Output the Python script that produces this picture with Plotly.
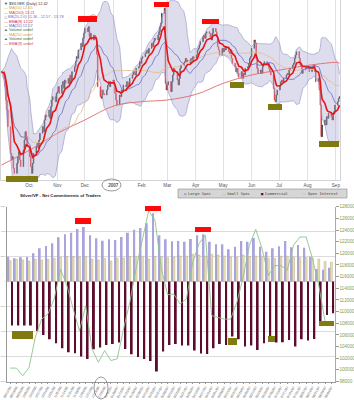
import pandas as pd
import plotly.graph_objects as go

W, H = 354, 400

# ---------------- price data: daily closes ----------------
close_2006_09 = [13.28, 13.12, 12.92, 12.60, 12.36, 11.96, 11.32, 11.16, 11.24, 10.96, 10.84,
                 11.08, 11.24, 11.36, 11.16, 11.00, 11.40, 11.64, 11.84, 11.72, 11.48]
close_2006_10 = [11.24, 11.00, 10.84, 11.08, 11.32, 11.48, 11.56, 11.44, 11.64, 11.80, 11.96,
                 11.84, 12.12, 12.24, 12.20, 12.36, 12.16, 12.44, 12.60, 12.68, 12.56, 12.76]
close_2006_11 = [12.80, 12.92, 12.76, 12.96, 13.04, 12.88, 13.08, 13.00, 13.12, 13.00, 13.20,
                 13.08, 13.28, 13.40, 13.52, 13.64, 13.60, 13.80, 13.96, 13.88, 14.08, 14.20]
close_2006_12 = [14.32, 14.24, 14.36, 14.12, 14.20, 14.04, 14.16, 14.12, 14.08, 13.70, 12.92,
                 12.68, 12.64, 12.84, 12.76, 12.72, 12.84, 12.96, 13.04, 12.92, 13.04]
close_2007_01 = [13.08, 12.96, 12.76, 12.60, 12.48, 12.72, 12.68, 12.84, 12.80, 12.96, 12.92,
                 13.04, 13.00, 12.92, 13.12, 13.20, 13.28, 13.24, 13.20, 13.36, 13.40, 13.52, 13.48]
close_2007_02 = [13.60, 13.64, 13.72, 13.76, 13.80, 13.72, 13.84, 13.96, 13.88, 14.00, 14.08,
                 14.04, 14.16, 14.24, 14.36, 14.44, 14.68, 14.80, 13.00, 12.84]
close_2007_03 = [12.96, 13.04, 12.80, 13.04, 13.20, 13.36, 13.28, 13.08, 12.96, 13.12, 13.36,
                 13.44, 13.48, 13.52, 13.60, 13.52, 13.56, 13.48, 13.60, 13.52, 13.64, 13.60]
close_2007_04 = [13.68, 13.80, 13.84, 13.92, 14.00, 14.12, 14.16, 14.08, 14.20, 14.24, 14.20,
                 14.12, 14.04, 14.20, 14.32, 14.24, 14.12, 13.88, 13.80, 13.68, 13.84]
close_2007_05 = [13.76, 13.84, 13.80, 13.88, 13.76, 13.72, 13.80, 13.60, 13.48, 13.40, 13.28,
                 13.36, 13.24, 13.16, 13.28, 13.12, 13.24, 13.20, 13.36, 13.40, 13.48, 13.60, 13.64]
close_2007_06 = [13.84, 14.04, 13.96, 13.60, 13.36, 13.24, 13.32, 13.24, 13.40, 13.48, 13.52,
                 13.44, 13.48, 13.36, 13.28, 13.20, 12.88, 12.60, 12.56, 12.72, 12.84]
close_2007_07 = [12.96, 13.04, 13.08, 13.04, 13.12, 13.20, 13.24, 13.20, 13.32, 13.36, 13.44,
                 13.48, 13.60, 13.68, 13.76, 13.60, 13.44, 13.40, 13.24, 13.32, 13.36, 13.40]
close_2007_08 = [13.36, 13.40, 13.28, 13.36, 13.40, 13.44, 13.28, 13.04, 13.12, 12.84, 12.48,
                 11.72, 12.00, 12.12, 12.00, 12.20, 12.16, 12.28, 12.20, 12.12, 12.28, 12.32, 12.48]
close_2007_09 = [12.56, 12.64, 12.68]

price_months = [("2006-09-01", close_2006_09), ("2006-10-01", close_2006_10),
                ("2006-11-01", close_2006_11), ("2006-12-01", close_2006_12),
                ("2007-01-01", close_2007_01), ("2007-02-01", close_2007_02),
                ("2007-03-01", close_2007_03), ("2007-04-01", close_2007_04),
                ("2007-05-01", close_2007_05), ("2007-06-01", close_2007_06),
                ("2007-07-01", close_2007_07), ("2007-08-01", close_2007_08),
                ("2007-09-01", close_2007_09)]

# 200-day moving average (monthly points)
ma200_dates = ["2006-09-01", "2006-10-02", "2006-11-01", "2006-12-01", "2007-01-02",
               "2007-02-01", "2007-03-01", "2007-04-02", "2007-05-01", "2007-06-01",
               "2007-07-02", "2007-08-01", "2007-09-03", "2007-09-05"]
ma200_values = [11.04, 11.40, 11.80, 12.12, 12.46, 12.56, 12.60, 12.74, 13.00, 13.20,
                13.32, 13.43, 13.50, 13.48]

month_ticks = ["2006-10-01", "2006-11-01", "2006-12-01", "2007-01-01", "2007-02-01",
               "2007-03-01", "2007-04-01", "2007-05-01", "2007-06-01", "2007-07-01",
               "2007-08-01", "2007-09-01"]
month_labels = ["Oct", "Nov", "Dec", "<b>2007</b>", "Feb", "Mar", "Apr", "May", "Jun",
                "Jul", "Aug", "Sep"]

# ---------------- COT data (weekly) ----------------
cot_labels = ["09/12/06", "09/19/06", "09/26/06", "10/03/06", "10/10/06", "10/17/06",
              "10/24/06", "10/31/06", "11/07/06", "11/14/06", "11/21/06", "11/28/06",
              "12/05/06", "12/12/06", "12/19/06", "12/26/06", "01/02/07", "01/09/07",
              "01/16/07", "01/23/07", "01/30/07", "02/06/07", "02/13/07", "02/20/07",
              "02/27/07", "03/06/07", "03/13/07", "03/20/07", "03/27/07", "04/03/07",
              "04/10/07", "04/17/07", "04/24/07", "05/01/07", "05/08/07", "05/15/07",
              "05/22/07", "05/29/07", "06/05/07", "06/12/07", "06/19/07", "06/26/07",
              "07/03/07", "07/10/07", "07/17/07", "07/24/07", "07/31/07", "08/07/07",
              "08/14/07", "08/21/07", "08/28/07", "09/04/07"]
large_spec = [20000, 18700, 19500, 19700, 22700, 26700, 28500, 30700, 35500, 37900,
              39200, 42100, 43700, 37100, 34700, 32800, 33900, 33300, 35700, 39200,
              41600, 42900, 46700, 54700, 37100, 33900, 32300, 32500, 32000, 34100,
              37100, 37900, 32000, 29900, 29900, 25900, 28000, 32500, 32000, 34900,
              28000, 24000, 26700, 28300, 32500, 27500, 29300, 27200, 20000, 10100,
              9600, 11200]
small_spec = [16800, 17900, 17300, 16500, 17900, 17300, 17900, 18700, 19500, 20000,
              20000, 19700, 20000, 17900, 17300, 18700, 16500, 18700, 18900, 20000,
              20300, 20300, 18100, 20000, 20000, 19200, 19700, 20500, 20500, 21900,
              21300, 20500, 21900, 21300, 20500, 19700, 19700, 21300, 20000, 20500,
              20500, 18700, 18700, 20300, 20300, 19700, 19200, 19200, 18700, 17900,
              16000, 15500]
commercial = [-35200, -35200, -35200, -35200, -39500, -42700, -46100, -49300, -53300, -56500,
              -57300, -60000, -61900, -54100, -52800, -50700, -49900, -48800, -53900, -58100,
              -60300, -61900, -63500, -72000, -56000, -50700, -49900, -51200, -51200, -55200,
              -57600, -57900, -53300, -49900, -50700, -44000, -46100, -52000, -51200, -54700,
              -49300, -47500, -48800, -48500, -46700, -52000, -46100, -47200, -45900, -34700,
              -26700, -25300]
open_interest = [100300, 100300, 99000, 100400, 105600, 108700, 109600, 112200, 117300, 114500,
                 110500, 106700, 111000, 103600, 101300, 103300, 101600, 101900, 107000, 111600,
                 117400, 122500, 127300, 125700, 117400, 112900, 113000, 111300, 112200, 118500,
                 121700, 123100, 109300, 109000, 108700, 108700, 111600, 115900, 121400, 124100,
                 120800, 116200, 117900, 117900, 117100, 121400, 122800, 122800, 119100, 114500,
                 108300, 108200]

legend_lines = [("▼ $SILVER (Daily) 12.42", "#333333"),
                ("— MA(50) 12.65", "#e09a40"),
                ("— MA(200) 13.21", "#d84040"),
                ("△ BB(20,2.0) 11.36 - 12.57 - 13.78", "#7070b0"),
                ("— EMA(9) 12.22", "#e02020"),
                ("— MA(20) 12.57", "#6060c0"),
                ("▲ Volume undef", "#3a6a3a"),
                ("— MA(20) undef", "#e09a40"),
                ("▲ Volume undef", "#3a6a3a"),
                ("— EMA(9) undef", "#d84040")]

# ---------------- build daily series ----------------
dates, closes = [], []
for start, vals in price_months:
    s0 = pd.Timestamp(start)
    bd = pd.bdate_range(s0, s0 + pd.offsets.MonthEnd(0))
    for d, v in zip(bd, vals):
        dates.append(d)
        closes.append(v)
s = pd.Series(closes, index=dates)
opens = [closes[0]] + closes[:-1]
highs = [max(o, c) for o, c in zip(opens, closes)]
lows = [min(o, c) for o, c in zip(opens, closes)]
ema9 = s.ewm(span=9, adjust=False).mean()
ma20 = s.rolling(20, min_periods=1).mean()
sd20 = s.rolling(20, min_periods=1).std(ddof=0).fillna(0)
bb_up = ma20 + 2 * sd20
bb_lo = ma20 - 2 * sd20
ma50 = s.rolling(50, min_periods=1).mean()


def fx(px):
    return px / W


def fy(py):
    return 1 - py / H


fig = go.Figure()
# ---- top panel ----
fig.add_trace(go.Scatter(x=dates, y=bb_up, mode="lines", line=dict(color="#9090c4", width=0.6),
                         hoverinfo="skip"))
fig.add_trace(go.Scatter(x=dates, y=bb_lo, mode="lines", line=dict(color="#9090c4", width=0.6),
                         fill="tonexty", fillcolor="rgba(170,170,212,0.40)", hoverinfo="skip"))
fig.add_trace(go.Scatter(x=ma200_dates, y=ma200_values, mode="lines",
                         line=dict(color="#e06a6a", width=0.9, shape="spline")))
fig.add_trace(go.Scatter(x=dates, y=ma50, mode="lines", line=dict(color="#e2bc8c", width=0.8)))
fig.add_trace(go.Scatter(x=dates, y=ma20, mode="lines", line=dict(color="#6c6cc4", width=0.8)))
fig.add_trace(go.Candlestick(x=dates, open=opens, high=highs, low=lows, close=closes,
                             increasing=dict(line=dict(color="#3c3c3c", width=0.9), fillcolor="#8a8a8a"),
                             decreasing=dict(line=dict(color="#e83a3a", width=0.9), fillcolor="#e83a3a"),
                             whiskerwidth=0))
fig.add_trace(go.Scatter(x=dates, y=ema9, mode="lines", line=dict(color="#e81414", width=1.6)))

# ---- bottom panel ----
fig.add_trace(go.Bar(x=cot_labels, y=large_spec, marker=dict(color="#a9a5dc", line_width=0),
                     xaxis="x2", yaxis="y2", name="Large Spec"))
fig.add_trace(go.Bar(x=cot_labels, y=small_spec,
                     marker=dict(color="#ebe3b8", line=dict(color="#a8986a", width=0.4)),
                     xaxis="x2", yaxis="y2", name="Small Spec"))
fig.add_trace(go.Bar(x=cot_labels, y=commercial, marker=dict(color="#5e0c2e", line_width=0),
                     xaxis="x2", yaxis="y2", name="Commercial"))
fig.add_trace(go.Scatter(x=cot_labels, y=open_interest, mode="lines",
                         line=dict(color="#8cc48c", width=0.9), xaxis="x2", yaxis="y3",
                         name="Open Interest"))

shapes = []


def box(x0, y0, x1, y1, color):
    shapes.append(dict(type="rect", xref="paper", yref="paper", x0=fx(x0), x1=fx(x1),
                       y0=fy(y1), y1=fy(y0), fillcolor=color, line_width=0, layer="above"))


RED, OLIVE = "#ff0a0a", "#807b10"
for b in [(78, 16, 97, 22), (154, 2, 169, 7), (202, 19, 219, 24),
          (75, 218, 91, 224), (145, 206, 161, 211), (195, 227, 211, 232)]:
    box(*b, RED)
for b in [(6, 176, 38, 182), (230, 82, 244, 88), (268, 104, 282, 110), (319, 141, 339, 147),
          (12, 331, 33, 339), (228, 338, 237, 345), (268, 336, 275, 342), (319, 321, 334, 326)]:
    box(*b, OLIVE)

# hand-drawn ellipses
shapes.append(dict(type="circle", xref="paper", yref="paper", x0=fx(102), x1=fx(121),
                   y0=fy(191), y1=fy(179), line=dict(color="#555", width=0.6)))
shapes.append(dict(type="circle", xref="paper", yref="paper", x0=fx(94), x1=fx(108),
                   y0=fy(399), y1=fy(377), line=dict(color="#555", width=0.6)))
# COT legend box
shapes.append(dict(type="rect", xref="paper", yref="paper", x0=fx(178), x1=fx(347),
                   y0=fy(198), y1=fy(189), fillcolor="#d6d6d6", line=dict(color="#8a8a8a", width=0.6)))

annotations = []
for i, (txt, col) in enumerate(legend_lines):
    annotations.append(dict(text=txt, xref="paper", yref="paper", x=fx(2), y=fy(3.5 + 4.4 * i),
                            xanchor="left", yanchor="middle", showarrow=False,
                            font=dict(family="Liberation Sans", size=3.9, color=col)))
annotations.append(dict(text="<b>Silver/VF - Net Commitments of Traders</b>", xref="paper",
                        yref="paper", x=fx(18), y=fy(195.5), xanchor="left", yanchor="middle",
                        showarrow=False, font=dict(family="Liberation Sans", size=4.3, color="#222")))
for txt, xp, col in [("■", 182, "#a9a5dc"), ("Large Spec", 186, "#444"),
                     ("□", 221, "#b8a870"), ("Small Spec", 225, "#444"),
                     ("■", 259, "#5e0c2e"), ("Commercial", 263, "#444"),
                     ("—", 301, "#6cb46c"), ("Open Interest", 306, "#444")]:
    annotations.append(dict(text=txt, xref="paper", yref="paper", x=fx(xp), y=fy(193.5),
                            xanchor="left", yanchor="middle", showarrow=False,
                            font=dict(family="DejaVu Sans Mono", size=3.8, color=col)))

fig.update_layout(
    width=W, height=H, margin=dict(l=0, r=0, t=0, b=0),
    paper_bgcolor="white", plot_bgcolor="white", showlegend=False, hovermode=False,
    barmode="group", bargap=0.1, bargroupgap=0,
    xaxis=dict(domain=[fx(1), fx(340)], anchor="y", type="date",
               range=["2006-08-31 12:00", "2007-09-05 12:00"],
               tickmode="array", tickvals=month_ticks, ticktext=month_labels,
               tickfont=dict(family="Liberation Sans", size=4.6, color="#555"),
               showgrid=True, gridcolor="#e2e2e2", gridwidth=0.6,
               rangeslider=dict(visible=False), showline=True, linecolor="#d4d4d4",
               mirror=True, ticks="", zeroline=False, automargin=False),
    yaxis=dict(domain=[fy(180), 1], anchor="x", range=[10.68, 15.0], showticklabels=False,
               showgrid=False, zeroline=False, showline=True, linecolor="#d4d4d4",
               mirror=True, automargin=False),
    xaxis2=dict(domain=[fx(7), fx(334.5)], anchor="y2", type="category", range=[-0.5, 51.5],
                tickmode="array", tickvals=cot_labels, ticktext=cot_labels, tickangle=-60,
                tickfont=dict(family="Liberation Sans", size=3.3, color="#555"),
                showline=True, linecolor="#999", showgrid=False, ticks="outside", ticklen=1.5,
                tickcolor="#999", zeroline=False, automargin=False),
    yaxis2=dict(domain=[fy(381.5), fy(206.7)], anchor="x2", range=[-80000, 60000], dtick=20000,
                tickformat="d", tickfont=dict(family="Liberation Sans", size=1.8, color="#888"),
                showgrid=True, gridcolor="#dcdcdc", gridwidth=0.7, zeroline=False,
                showline=True, linecolor="#999", ticks="", automargin=False),
    yaxis3=dict(overlaying="y2", side="right", anchor="x2", range=[98000, 128000], dtick=2000,
                tickformat="d", tickfont=dict(family="Liberation Sans", size=4.6, color="#7ea05e"),
                ticks="outside", ticklen=3, tickcolor="#999", showline=True, linecolor="#aaa",
                showgrid=False, zeroline=False, automargin=False),
    shapes=shapes, annotations=annotations,
)

fig.write_html("out.html")
